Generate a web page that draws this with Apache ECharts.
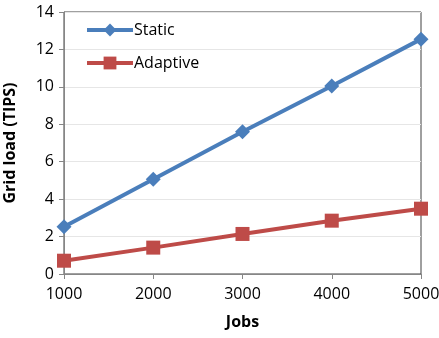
<!DOCTYPE html>
<html>
<head>
<meta charset="utf-8">
<script src="https://cdn.jsdelivr.net/npm/echarts@6/dist/echarts.min.js"></script>
<style>
  html, body { margin: 0; padding: 0; background: #fff; }
  #chart { width: 439px; height: 338px; }
</style>
</head>
<body>
<div id="chart"></div>
<script>
// 数据
const jobs = ['1000', '2000', '3000', '4000', '5000']
const staticLoad = [2.53, 5.06, 7.6, 10.05, 12.55]
const adaptiveLoad = [0.71, 1.41, 2.14, 2.85, 3.49]

const font = 'Open Sans'
const chart = echarts.init(document.getElementById('chart'))

chart.setOption({
  animation: false,
  grid: {
    left: 64, right: 18, top: 12, bottom: 64,
    outerBoundsMode: 'none',
    containLabel: false,
    show: true, borderColor: '#404040', borderWidth: 1
  },
  legend: {
    orient: 'vertical',
    left: 80, top: 17,
    itemGap: 17,
    itemWidth: 46, itemHeight: 16,
    lineStyle: { width: 4 },
    textStyle: { fontFamily: font, fontSize: 16, color: '#000', padding: [0, 0, 0, -4] },
    data: ['Static', 'Adaptive']
  },
  xAxis: {
    type: 'category',
    data: jobs,
    boundaryGap: false,
    name: 'Jobs',
    nameLocation: 'middle',
    nameGap: 40,
    nameTextStyle: { fontFamily: font, fontSize: 16, fontWeight: 'bold', color: '#000' },
    axisLine: { lineStyle: { color: '#868686', width: 1 } },
    axisTick: { show: true, length: 5, lineStyle: { color: '#868686' } },
    axisLabel: { fontFamily: font, fontSize: 16, color: '#000', margin: 12 },
    splitLine: { show: false }
  },
  yAxis: {
    type: 'value',
    min: 0, max: 14, interval: 2,
    name: 'Grid load (TIPS)',
    nameLocation: 'middle',
    nameGap: 46,
    nameTextStyle: { fontFamily: font, fontSize: 16, fontWeight: 'bold', color: '#000' },
    axisLine: { show: true, lineStyle: { color: '#868686', width: 1 } },
    axisTick: { show: true, length: 5, lineStyle: { color: '#868686' } },
    axisLabel: { fontFamily: font, fontSize: 16, color: '#000', margin: 10 },
    splitLine: { lineStyle: { color: '#e6e6e6', width: 1 } }
  },
  series: [
    {
      name: 'Static',
      type: 'line',
      data: staticLoad,
      symbol: 'diamond',
      symbolSize: 15,
      lineStyle: { color: '#4a7ebb', width: 4 },
      itemStyle: { color: '#4a7ebb' }
    },
    {
      name: 'Adaptive',
      type: 'line',
      data: adaptiveLoad,
      symbol: 'rect',
      symbolSize: 14,
      lineStyle: { color: '#be4b48', width: 4 },
      itemStyle: { color: '#be4b48' }
    }
  ]
})
</script>
</body>
</html>
